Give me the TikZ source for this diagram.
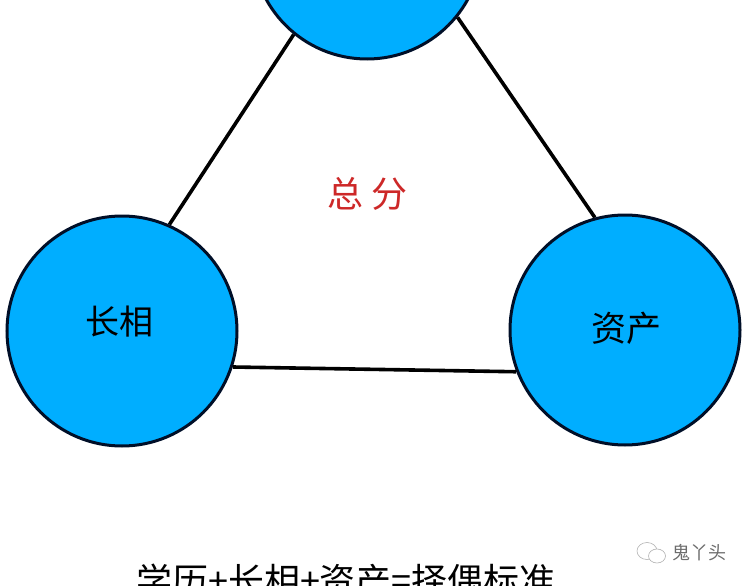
\documentclass[tikz,border=0pt]{standalone}
\usepackage{fontspec}
\setmainfont{Noto Sans CJK SC}
\usepackage{xcolor}
\usetikzlibrary{shapes.geometric, positioning, calc}
\definecolor{ballblue}{RGB}{0,174,255}
\definecolor{ballline}{RGB}{0,15,40}
\definecolor{scorered}{RGB}{205,40,40}
\begin{document}
\begin{tikzpicture}[x=1pt, y=-1pt, thick]
  \tikzstyle{ball} = [circle, draw=ballline, line width=3pt, fill=ballblue, minimum size=230pt, inner sep=0pt]
  \tikzstyle{tie} = [draw=black, line width=3.6pt]
  \tikzstyle{mark icon} = [draw=gray!60, line width=0.6pt, fill=white]

  \useasboundingbox (0,0) rectangle (750,586);
  \clip (0,0) rectangle (750,586);

  \node[ball] (Edu) at (367,-56) {};
  \node[ball] (Looks) at (122,331) {};
  \node[ball] (Assets) at (625,330) {};
  \node[font=\fontsize{34}{34}\selectfont] (LooksText) at (119,322) {长相};
  \node[font=\fontsize{35}{35}\selectfont] (AssetsText) at (626,328) {资产};

  \path[tie]
    (Looks.66) -- (Edu.231)
    (Edu.321) -- (Assets.105)
    (Looks.-18) -- (Assets.201);

  \node[text=scorered, font=\fontsize{36}{36}\selectfont] (Total) at (368,194) {总 分};
  \node[anchor=base, font=\fontsize{36}{36}\selectfont] (Formula) at (346,594) {学历+长相+资产=择偶标准};

  % watermark
  \node[mark icon, ellipse, minimum width=20pt, minimum height=17pt, inner sep=0pt] (BubbleA) at (647,551) {};
  \node[mark icon, ellipse, minimum width=17pt, minimum height=14pt, inner sep=0pt] (BubbleB) at (657,556) {};
  \node[text=gray!85!black, font=\fontsize{18}{18}\selectfont] (Mark) at (699,553) {鬼丫头};
\end{tikzpicture}
\end{document}
